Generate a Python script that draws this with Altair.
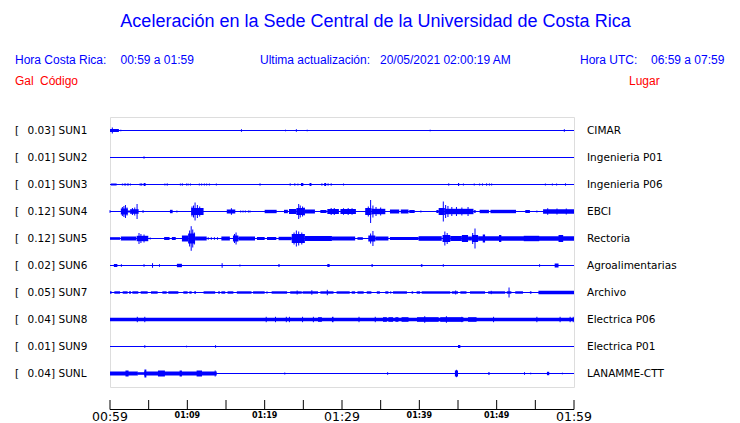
import altair as alt
import pandas as pd

BLUE = "#0000FF"
RED = "#FF0000"
TXT_FONT = "Liberation Sans"
LBL_FONT = "DejaVu Sans"

# ---------------- data ----------------
CODES = ["SUN1", "SUN2", "SUN3", "SUN4", "SUN5", "SUN6", "SUN7", "SUN8", "SUN9", "SUNL"]
GAL = ["0.03", "0.01", "0.01", "0.12", "0.12", "0.02", "0.05", "0.04", "0.01", "0.04"]
PLACES = ["CIMAR", "Ingenieria P01", "Ingenieria P06", "EBCI", "Rectoria",
          "Agroalimentarias", "Archivo", "Electrica P06", "Electrica P01", "LANAMME-CTT"]

# minutes after 00:59 ; tick labels
TICK_MIN = [0, 5, 10, 15, 20, 25, 30, 35, 40, 45, 50, 55, 60]
MAJOR_MIN = [0, 30, 60]
MAJOR_LBL = ["00:59", "01:29", "01:59"]
MINOR_MIN = [10, 20, 40, 50]
MINOR_LBL = ["01:09", "01:19", "01:39", "01:49"]

# envelope of each trace: (start minute, end minute, half amplitude in counts)
# 27 counts = spacing between two traces
COUNTS_PER_TRACE = 27.0
SUN1 = [(0.0, 1.15, 1.5), (0.3, 0.3, 3.0), (1.4, 1.4, 0.8), (17.0, 17.0, 1.3), (22.7, 22.7, 0.8),
        (24.1, 24.1, 1.3), (25.5, 25.5, 0.8), (41.4, 41.4, 0.8), (58.75, 58.75, 1.3)]
SUN2 = [(4.4, 4.4, 1.2)]
SUN3 = [(0.13, 0.86, 1.0), (1.6, 1.6, 1), (1.85, 1.85, 1), (2.0, 2.0, 1), (2.24, 2.24, 1), (2.37, 2.37, 1),
        (2.63, 2.63, 1), (3.9, 3.9, 1.2), (4.1, 4.1, 1.2), (4.35, 4.6, 1.5), (7.1, 7.1, 1), (7.4, 7.4, 1.2),
        (9.1, 9.1, 1), (9.35, 9.35, 1.2), (9.9, 9.9, 1), (10.1, 10.1, 1), (10.4, 10.4, 1), (11.55, 11.55, 1),
        (11.85, 11.85, 1), (12.2, 12.2, 1), (12.5, 12.5, 1), (12.85, 12.85, 1), (13.75, 13.75, 1),
        (19.4, 19.4, 1.2), (23.3, 23.3, 1.2), (23.9, 23.9, 1.2), (24.3, 24.3, 1), (24.7, 25.0, 1.5),
        (25.8, 26.05, 1.5), (27.4, 27.4, 1.2), (27.7, 27.95, 1.5), (28.2, 28.2, 1.2), (28.6, 28.6, 1.2),
        (30.2, 30.2, 1), (43.8, 43.8, 1.2), (45.0, 45.15, 1.5), (45.7, 45.7, 1), (47.1, 47.1, 1),
        (47.8, 47.8, 1), (48.1, 48.2, 1.3), (48.7, 48.7, 1.2), (49.0, 49.1, 1.3), (49.35, 49.35, 1),
        (56.3, 56.3, 1), (57.2, 57.2, 1), (57.75, 57.75, 1), (58.9, 58.9, 1.2)]
SUN4 = [(0.0, 0.0, 1.3), (1.4, 2.3, 3.0), (2.0, 2.0, 6.5), (1.6, 1.6, 4.5), (1.8, 1.8, 5.5), (2.2, 2.2, 4.0),
        (2.3, 2.6, 1.0), (2.6, 3.7, 2.3), (2.9, 2.9, 3.5), (3.2, 3.2, 4.0), (3.5, 3.5, 7.5),
        (4.2, 4.35, 1.3), (7.75, 8.1, 1.7), (8.65, 8.65, 1.0), (10.5, 12.1, 3.5), (11.0, 11.0, 9.0),
        (10.6, 10.6, 5.0), (10.8, 10.8, 6.0), (11.3, 11.3, 6.5), (11.6, 11.6, 5.0), (11.9, 11.9, 3.5),
        (15.1, 16.2, 2.0), (15.7, 15.7, 3.3), (16.9, 16.9, 1), (17.2, 17.2, 1),
        (17.5, 17.5, 1), (17.9, 17.9, 1), (18.1, 18.1, 1), (20.0, 21.55, 1.7), (22.5, 23.0, 1.7),
        (23.15, 24.1, 2.5), (24.1, 25.2, 3.5), (24.4, 24.4, 7.5), (24.6, 24.6, 6.0), (24.9, 24.9, 5.0),
        (25.1, 25.1, 4.0), (25.2, 26.5, 2.0), (27.2, 28.0, 1.5),
        (28.1, 29.6, 2.5), (28.6, 28.6, 3.5), (29.0, 29.0, 3.5), (29.8, 31.8, 2.5), (30.2, 30.2, 3.3),
        (30.8, 30.8, 3.5), (31.3, 31.3, 3.3), (33.0, 33.8, 3.5),
        (33.7, 33.7, 11.5), (33.4, 33.4, 5.0), (34.0, 34.0, 6.0), (34.4, 34.4, 4.5), (35.0, 35.0, 4.0),
        (33.8, 35.6, 2.7), (36.2, 37.4, 2.0), (37.6, 38.6, 2.0), (38.7, 39.4, 1.5),
        (40.2, 40.2, 1.0), (42.2, 42.5, 1.5), (42.5, 43.3, 3.5), (43.1, 43.1, 10.0), (43.4, 43.4, 6.5),
        (43.7, 43.7, 5.5), (44.2, 44.2, 4.5), (44.8, 44.8, 4.5), (45.5, 45.5, 4.0), (46.3, 46.3, 4.5),
        (43.3, 47.0, 2.7), (47.05, 47.3, 1.3), (47.8, 49.0, 1.7), (49.2, 52.5, 1.7), (53.7, 54.3, 1.5),
        (55.2, 55.2, 1.0), (56.0, 60.0, 2.2), (56.6, 56.6, 3.3), (57.8, 57.8, 3.0), (59.0, 59.0, 3.0)]
SUN5 = [(0.0, 1.3, 1.3), (1.4, 3.4, 2.0), (3.45, 4.95, 2.7), (3.75, 3.75, 5.5), (4.0, 4.0, 4.5),
        (4.4, 4.4, 4.0), (5.2, 5.2, 1.0),
        (7.0, 7.7, 1.5), (8.0, 8.5, 1.5), (9.3, 10.1, 3.0), (10.1, 11.0, 5.0), (10.5, 10.5, 12.3),
        (10.3, 10.3, 8.0), (10.7, 10.7, 9.0), (10.9, 10.9, 6.0),
        (11.0, 12.5, 2.0), (12.7, 12.7, 1.3), (13.1, 13.1, 1.3), (13.5, 13.5, 1.3), (13.9, 13.9, 1.3),
        (14.4, 15.5, 2.0), (15.9, 16.6, 3.0), (16.1, 16.1, 4.5), (16.3, 16.3, 6.0), (16.6, 18.75, 2.0),
        (19.0, 20.0, 1.5), (20.3, 21.5, 1.5), (21.8, 23.5, 1.7), (23.5, 25.2, 4.5), (24.1, 24.1, 8.0),
        (23.8, 23.8, 6.0), (24.4, 24.4, 7.0), (24.8, 24.8, 6.0), (25.2, 28.7, 2.5),
        (28.7, 31.7, 2.0), (32.0, 32.7, 1.3), (33.4, 34.3, 3.0), (34.0, 34.0, 7.5), (33.7, 33.7, 5.0),
        (34.3, 36.0, 2.0), (36.2, 39.9, 1.5), (39.9, 42.9, 2.3), (43.0, 44.0, 3.5), (43.3, 43.3, 7.0),
        (43.6, 43.6, 5.5), (44.0, 45.5, 2.5), (45.5, 46.3, 3.5), (46.3, 46.8, 2.0), (46.8, 47.6, 3.5),
        (46.9, 46.9, 5.5), (47.2, 47.2, 10.0), (47.6, 60.0, 2.3),
        (48.2, 48.5, 4.0), (50.3, 50.6, 3.5), (53.5, 55.5, 2.7), (58.0, 58.6, 3.5)]
SUN6 = [(0.5, 0.95, 1.5), (1.47, 1.47, 1.3), (4.4, 4.4, 1.3), (5.5, 5.5, 2.3), (6.4, 6.4, 1.3),
        (8.65, 9.3, 1.7), (14.5, 14.5, 2.3), (16.8, 16.8, 1.0), (21.75, 21.95, 1.3), (28.1, 28.4, 1.5),
        (33.8, 34.0, 1.3), (40.2, 40.4, 1.3), (43.1, 43.1, 1.3), (55.55, 55.55, 1.3), (57.5, 58.0, 2.0)]
SUN7 = [(0.0, 0.2, 1.2), (0.56, 1.3, 1.2), (1.64, 2.28, 1.2), (2.46, 2.72, 1.2), (2.89, 3.66, 1.2),
        (3.97, 4.87, 1.2), (5.3, 6.16, 1.2), (6.77, 7.33, 1.2), (7.54, 8.84, 1.2), (9.48, 10.04, 1.2),
        (10.26, 10.56, 1.2), (10.9, 11.12, 1.2), (12.1, 13.6, 1.2), (14.0, 14.2, 1.2), (14.4, 14.9, 1.2),
        (15.2, 15.95, 1.2), (16.4, 18.3, 1.2), (18.5, 20.0, 1.2), (20.3, 20.3, 1.2), (20.9, 22.9, 1.2),
        (23.3, 24.8, 1.2), (24.9, 26.9, 1.2), (27.2, 28.9, 1.2), (29.3, 31.0, 1.2), (31.25, 31.7, 1.2),
        (32.0, 32.8, 1.2), (33.2, 33.8, 1.2), (34.5, 34.9, 1.2), (35.6, 36.0, 1.2), (36.3, 36.3, 1.2),
        (36.6, 38.4, 1.2), (39.0, 39.2, 1.2), (39.65, 40.1, 1.2), (40.3, 44.0, 1.2), (44.2, 45.0, 1.2),
        (45.3, 46.1, 1.2), (46.55, 48.5, 1.2), (48.9, 51.1, 1.2), (51.3, 51.9, 1.2), (52.4, 53.4, 1.2),
        (54.3, 54.5, 1.2), (55.4, 60.0, 1.7), (24.2, 24.2, 2.0), (26.1, 26.1, 2.3), (28.1, 28.1, 2.7),
        (44.7, 44.7, 2.0), (49.3, 49.3, 1.7), (51.6, 51.6, 5.0)]
SUN8 = [(0.0, 60.0, 1.7), (3.53, 3.53, 2.7), (4.5, 4.5, 2.7), (20.2, 20.2, 2.7), (21.4, 21.4, 2.7),
        (22.8, 22.8, 2.7), (23.2, 23.2, 2.7), (24.9, 24.9, 2.7), (26.3, 26.3, 2.7), (26.9, 27.4, 2.3),
        (28.7, 28.9, 2.7), (32.2, 32.2, 2.7), (34.3, 34.3, 2.7), (35.3, 35.8, 2.3), (36.0, 36.6, 2.3),
        (36.9, 37.3, 2.3), (37.7, 38.6, 2.3), (39.7, 42.5, 2.3), (40.7, 40.7, 3.3), (42.7, 45.7, 2.3),
        (43.5, 43.5, 3.3), (45.5, 45.5, 2.7), (46.3, 47.4, 2.3), (49.6, 49.6, 2.7), (55.2, 55.2, 2.7),
        (58.2, 58.2, 2.7), (59.5, 59.5, 2.7), (59.9, 59.9, 2.7)]
SUN9 = [(4.5, 4.5, 1.3), (9.9, 9.9, 0.8), (13.65, 13.65, 1.3), (45.0, 45.3, 1.5)]
SUNL = [(0.0, 3.6, 2.0), (3.6, 4.4, 1.3), (4.4, 13.8, 2.0), (2.0, 2.4, 3.0), (4.45, 4.7, 4.0),
        (6.2, 7.1, 3.0), (9.0, 9.3, 3.0), (11.2, 11.9, 3.0), (13.6, 13.6, 3.0), (22.6, 22.6, 1.0),
        (35.9, 35.9, 1.3), (44.6, 45.0, 3.0), (44.8, 44.8, 3.7), (48.9, 49.1, 1.3), (53.6, 53.6, 1.3),
        (54.4, 54.4, 0.8), (56.5, 56.8, 1.7), (58.5, 58.5, 0.8)]
TRACES = [SUN1, SUN2, SUN3, SUN4, SUN5, SUN6, SUN7, SUN8, SUN9, SUNL]

TITLE = "Aceleración en la Sede Central de la Universidad de Costa Rica"

# ---------------- tables ----------------
blocks, spikes = [], []
for i, tr in enumerate(TRACES):
    for t0, t1, a in tr:
        row = {"idx": i, "t0": t0, "t1": t1,
               "lo": i - a / COUNTS_PER_TRACE, "hi": i + a / COUNTS_PER_TRACE}
        (spikes if t1 == t0 else blocks).append(row)
blocks = pd.DataFrame(blocks)
spikes = pd.DataFrame(spikes)
base = pd.DataFrame({"idx": list(range(len(CODES))), "t0": 0, "t1": 60,
                     "code": CODES, "gal": [g + "]" for g in GAL], "place": PLACES})

xs = alt.Scale(domain=[0, 60], nice=False, zero=False)
ys = alt.Scale(domain=[-0.5, 9.5], nice=False, zero=False, reverse=True)

X0 = alt.X("t0:Q", scale=xs, axis=None)
X1 = alt.X2("t1:Q")

baseline = alt.Chart(base).mark_rule(color=BLUE, strokeWidth=1).encode(
    x=X0, x2=X1, y=alt.Y("idx:Q", scale=ys, axis=None))
rects = alt.Chart(blocks).mark_rect(color=BLUE, opacity=1).encode(
    x=X0, x2=X1, y=alt.Y("lo:Q", scale=ys, axis=None), y2="hi:Q")
spk = alt.Chart(spikes).mark_rule(color=BLUE, strokeWidth=1).encode(
    x=X0, y=alt.Y("lo:Q", scale=ys, axis=None), y2="hi:Q")

def rowtext(field, xpx, align):
    return alt.Chart(base).mark_text(align=align, baseline="middle", font=LBL_FONT,
                                     fontSize=10.5, color="black").encode(
        x=alt.value(xpx), y=alt.Y("idx:Q", scale=ys, axis=None), text=f"{field}:N")

br = alt.Chart(base).mark_text(align="left", baseline="middle", font=LBL_FONT, fontSize=10.5,
                               color="black", text="[").encode(
    x=alt.value(-95), y=alt.Y("idx:Q", scale=ys, axis=None))
galt = rowtext("gal", -55, "right")
codet = rowtext("code", -51.5, "left")
placet = rowtext("place", 477, "left")

def label(text, xpx, ypx, color, size, align="left", font=TXT_FONT, weight="normal"):
    return alt.Chart(pd.DataFrame({"s": [text]})).mark_text(
        align=align, baseline="middle", font=font, fontSize=size, color=color,
        fontWeight=weight).encode(x=alt.value(xpx), y=alt.value(ypx), text="s:N")

headers = [
    label(TITLE, 265.5, -95, BLUE, 18, "center"),
    label("Hora Costa Rica:", -95, -57, BLUE, 12),
    label("00:59 a 01:59", 10.5, -57, BLUE, 12),
    label("Ultima actualización:", 150, -57, BLUE, 12),
    label("20/05/2021 02:00:19 AM", 270, -57, BLUE, 12),
    label("Hora UTC:", 470, -57, BLUE, 12),
    label("06:59 a 07:59", 541, -57, BLUE, 12),
    label("Gal", -95, -36, RED, 12),
    label("Código", -70, -36, RED, 12),
    label("Lugar", 519, -36, RED, 12),
]

axis_line = alt.Chart(pd.DataFrame({"t0": [0], "t1": [60]})).mark_rule(
    color="black", strokeWidth=1).encode(x=X0, x2=X1, y=alt.value(292.5))
ticks = alt.Chart(pd.DataFrame({"m": TICK_MIN})).mark_rule(color="black", strokeWidth=1).encode(
    x=alt.X("m:Q", scale=xs, axis=None), y=alt.value(283), y2=alt.value(292.5))
major = alt.Chart(pd.DataFrame({"m": MAJOR_MIN, "s": MAJOR_LBL})).mark_text(
    align="center", baseline="middle", font=LBL_FONT, fontSize=12.5, color="black").encode(
    x=alt.X("m:Q", scale=xs, axis=None), y=alt.value(299.5), text="s:N")
minor = alt.Chart(pd.DataFrame({"m": MINOR_MIN, "s": MINOR_LBL})).mark_text(
    align="center", baseline="middle", font=LBL_FONT, fontSize=8, fontWeight="bold",
    color="black").encode(
    x=alt.X("m:Q", scale=xs, axis=None), y=alt.value(298.5), text="s:N")

chart = alt.layer(
    baseline, rects, spk, br, galt, codet, placet, *headers, axis_line, ticks, major, minor
).properties(
    width=464, height=270,
    autosize=alt.AutoSizeParams(type="none"),
    padding={"left": 102, "top": 109, "right": 158, "bottom": 36},
).configure_view(stroke=None).configure(background="white")

chart.save("out.html", embed_options={"renderer": "svg", "actions": False})
